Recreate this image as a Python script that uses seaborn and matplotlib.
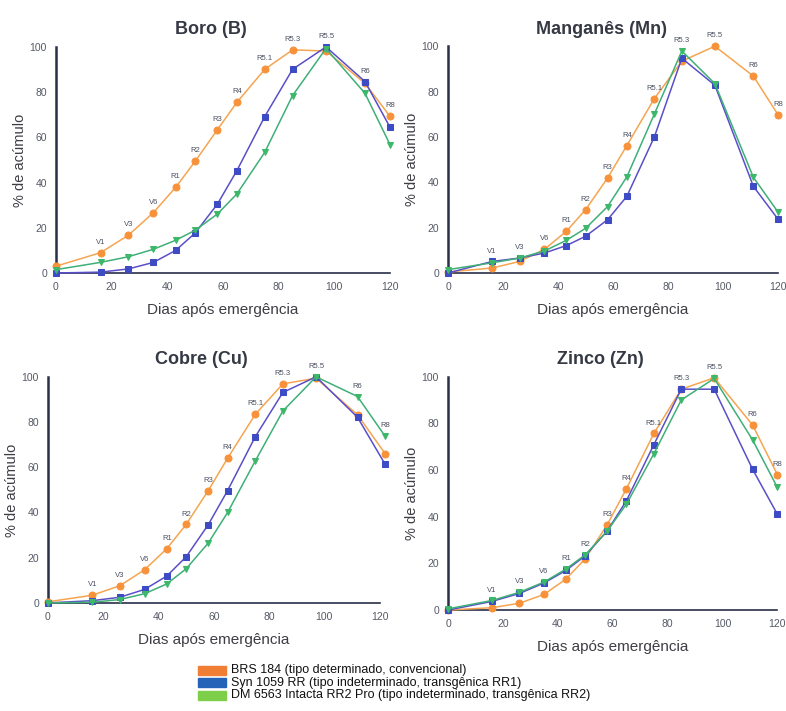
import numpy as np
import pandas as pd
import matplotlib
matplotlib.use("Agg")
import matplotlib.pyplot as plt
import seaborn as sns
from matplotlib.patches import Rectangle

sns.set_theme(style="white")
plt.rcParams['font.family'] = ['Liberation Sans', 'DejaVu Sans']

stages = ["", "V1", "V3", "V6", "R1", "R2", "R3", "R4", "R5.1", "R5.3", "R5.5", "R6", "R8"]
days = [0, 16, 26, 35, 43, 50, 58, 65, 75, 85, 97, 111, 120]
days_cu = [0, 16, 26, 35, 43, 50, 58, 65, 75, 85, 97, 112, 122]

series_names = ["BRS 184 (tipo determinado, convencional)",
                "Syn 1059 RR (tipo indeterminado, transgênica RR1)",
                "DM 6563 Intacta RR2 Pro (tipo indeterminado, transgênica RR2)"]

# Boro (B)
b_brs = [3, 9.0, 16.7, 26.7, 37.9, 49.4, 63.4, 75.5, 90.1, 98.7, 98.2, 83.9, 69.3]
b_syn = [0, 0.4, 1.8, 4.7, 10.0, 17.7, 30.5, 45.3, 69.2, 90.1, 100, 84.7, 64.5]
b_dm = [1.5, 4.7, 7.2, 10.5, 14.5, 18.9, 26.1, 35.0, 53.4, 78.5, 99.3, 79.5, 56.8]
# Manganês (Mn)
mn_brs = [0.5, 2.2, 5.1, 10.4, 18.4, 27.9, 41.9, 56.2, 76.9, 93.4, 100, 86.8, 69.7]
mn_syn = [0, 5.1, 6.6, 8.8, 12.1, 16.2, 23.5, 33.8, 60.0, 94.7, 82.8, 38.2, 23.7]
mn_dm = [1.5, 4.5, 6.6, 9.7, 14.4, 19.7, 29.3, 42.4, 70.1, 97.9, 83.5, 42.2, 26.8]
# Cobre (Cu)
cu_brs = [0.5, 3.4, 7.6, 14.7, 24.0, 34.7, 49.7, 64.0, 83.4, 96.9, 99.4, 83.2, 66.0]
cu_syn = [0, 1.0, 2.5, 6.0, 11.9, 20.4, 34.6, 49.7, 73.5, 93.1, 100, 82.1, 61.3]
cu_dm = [0, 0.3, 1.5, 4.1, 8.4, 15.1, 26.5, 40.0, 62.8, 84.9, 100, 91.3, 73.7]
# Zinco (Zn)
zn_brs = [0, 1.0, 2.9, 6.7, 13.3, 22.0, 36.6, 52.0, 75.7, 94.7, 99.6, 79.3, 58.1]
zn_syn = [0, 3.7, 7.1, 11.6, 17.0, 23.3, 33.9, 46.9, 70.9, 94.7, 94.7, 60.3, 41.1]
zn_dm = [0.5, 4.1, 7.6, 12.0, 17.6, 23.7, 33.9, 45.4, 67.0, 90.1, 99.3, 72.9, 52.6]

panels = [
    ("Boro (B)", days, [b_brs, b_syn, b_dm], [0.0712, 0.616, 0.425, 0.318]),
    ("Manganês (Mn)", days, [mn_brs, mn_syn, mn_dm], [0.570, 0.616, 0.420, 0.319]),
    ("Cobre (Cu)", days_cu, [cu_brs, cu_syn, cu_dm], [0.061, 0.152, 0.422, 0.318]),
    ("Zinco (Zn)", days, [zn_brs, zn_syn, zn_dm], [0.570, 0.142, 0.419, 0.328]),
]

line_colors = ["#F5A550", "#5A4FC8", "#3FAF78"]
marker_colors = ["#F7923A", "#3D4BC4", "#3DB86A"]
markers = ["o", "s", "v"]
msizes = [5.0, 4.5, 5.0]
legend_colors = ["#F07F35", "#2563B8", "#7DCF4A"]

fig = plt.figure(figsize=(7.86, 7.11), dpi=100)

for title, xs, ys, pos in panels:
    ax = fig.add_axes(pos)
    for i, y in enumerate(ys):
        df = pd.DataFrame({"x": xs, "y": y})
        sns.lineplot(data=df, x="x", y="y", ax=ax, color=line_colors[i], lw=1.1,
                     marker=markers[i], markersize=msizes[i],
                     markerfacecolor=marker_colors[i], markeredgecolor=marker_colors[i],
                     clip_on=False, zorder=3 + i, sort=False)
    top = np.max(np.array(ys), axis=0)
    for k in range(1, len(xs)):
        ax.annotate(stages[k], (xs[k], top[k]), xytext=(0, 5), textcoords="offset points",
                    ha="center", va="bottom", fontsize=5.5, color="#4a5060",
                    annotation_clip=False)
    ax.set_xlim(0, 120)
    ax.set_ylim(0, 100)
    ax.set_xticks([0, 20, 40, 60, 80, 100, 120])
    ax.set_yticks([0, 20, 40, 60, 80, 100])
    for s in ["top", "right"]:
        ax.spines[s].set_visible(False)
    ax.spines["left"].set_color("#2a2f4a")
    ax.spines["left"].set_linewidth(1.8)
    ax.spines["bottom"].set_color("#2a2f4a")
    ax.spines["bottom"].set_linewidth(1.2)
    ax.tick_params(axis="both", labelsize=7.5, colors="#2a2f4a", labelcolor="#555a66",
                   length=3, width=0.8, direction="out")
    ax.set_xlabel("Dias após emergência", fontsize=11, color="#3d3d44", labelpad=8)
    ax.set_ylabel("% de acúmulo", fontsize=10.5, color="#3d3d44", labelpad=2)
    ax.set_title(title, fontsize=13, fontweight="bold", color="#353944", pad=9, x=0.464)

# legend at bottom
lx, ly0, dy = 198 / 786, 1 - 670 / 711, 12.7 / 711
for i, name in enumerate(series_names):
    yb = ly0 - i * dy
    fig.patches.append(Rectangle((lx, yb - 4.5 / 711), 28 / 786, 9 / 711,
                                 transform=fig.transFigure, color=legend_colors[i]))
    fig.text(lx + 33 / 786, yb, name, fontsize=9, va="center", ha="left", color="#111111")

fig.savefig("out.png", dpi=100, facecolor="white")
